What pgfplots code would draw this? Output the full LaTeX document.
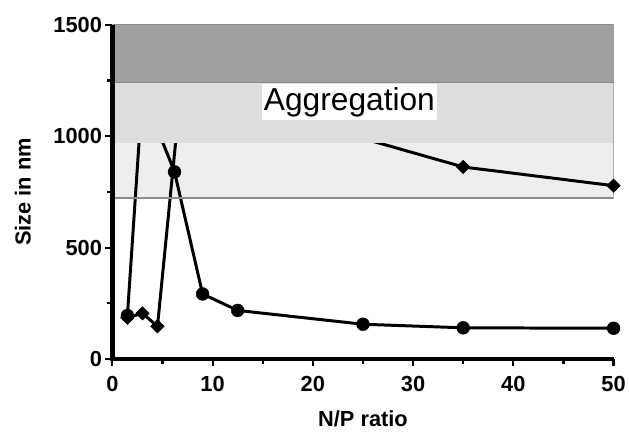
\documentclass[border=0pt]{standalone}
\usepackage{fontspec}
\setmainfont{Liberation Sans}
\usepackage{pgfplots}
\pgfplotsset{compat=1.18}

\definecolor{band_dark}{RGB}{160,160,160}
\definecolor{band_mid}{RGB}{221,221,221}
\definecolor{band_light}{RGB}{238,238,238}
\definecolor{band_edge}{RGB}{140,140,140}

\begin{document}
\begin{tikzpicture}
\begin{axis}[
    scale only axis,
    width=504bp, height=336bp,
    xmin=0, xmax=50, ymin=0, ymax=1500,
    xtick={0,10,...,50},
    ytick={0,500,1000,1500},
    minor x tick num=1,
    minor y tick num=1,
    axis lines=left,
    axis line style={-},
    tick align=outside,
    major tick length=7bp,
    minor tick length=5bp,
    every tick/.style={black, line width=2.2bp},
    axis on top=true,
    /pgf/number format/1000 sep={},
    /pgf/number format/assume math mode=true,
    tick label style={font=\fontsize{22}{24}\selectfont\bfseries},
    xticklabel style={yshift=-7bp},
    every axis y label/.style={at={(axis description cs:0,0.5)}, xshift=-90bp, rotate=90, anchor=center},
    every axis x label/.style={at={(axis description cs:0.5,0)}, yshift=-60bp, anchor=center},
    label style={font=\fontsize{22}{24}\selectfont\bfseries},
    xlabel={N/P ratio},
    ylabel={Size in nm},
]

% light band under the curves
\addplot[fill=band_light, draw=none, forget plot] coordinates {(0,723) (50,723) (50,969) (0,969)} -- cycle;

% series 1: diamonds, line through all points (those above the light band are hidden)
\addplot[black, line width=3bp, no marks] coordinates {
    (1.5,185) (3,205) (4.5,147) (9,2200) (12.5,1800) (25,990) (35,862) (50,778)
};
\addplot[only marks, black, mark=square*, mark size=4.8bp, mark options={rotate=45}] coordinates {
    (1.5,185) (3,205) (4.5,147) (35,862) (50,778)
};

% series 2: circles
\addplot[black, line width=3bp, no marks] coordinates {
    (1.5,195) (3,1200) (6.2,840) (9,292) (12.5,218) (25,156) (35,140) (50,138)
};
\addplot[only marks, black, mark=*, mark size=6.5bp] coordinates {
    (1.5,195) (6.2,840) (9,292) (12.5,218) (25,156) (35,140) (50,138)
};

% upper bands cover the curves
\addplot[fill=band_mid, draw=none, forget plot] coordinates {(0,969) (50,969) (50,1241) (0,1241)} -- cycle;
\addplot[fill=band_dark, draw=none, forget plot] coordinates {(0,1241) (50,1241) (50,1500) (0,1500)} -- cycle;
\addplot[band_edge, line width=1.2bp, forget plot] coordinates {(0,723) (50,723) (50,1500) (0,1500)};
\addplot[band_edge, line width=1bp, forget plot] coordinates {(0,1241) (50,1241)};

\node[fill=white, inner xsep=2bp, inner ysep=3bp, anchor=west,
      font=\fontsize{32}{34}\selectfont] at (axis cs:14.9,1154) {Aggregation};

\coordinate (bl) at (rel axis cs:0,0);
\coordinate (tr) at (rel axis cs:1,1);
\end{axis}
% thick axis lines
\draw[black, line width=4.5bp] (bl|-tr) -- (bl) -- (tr|-bl);
\path ([shift={(-113bp,-73bp)}]bl) ([shift={(12bp,25bp)}]tr);
\end{tikzpicture}
\end{document}
